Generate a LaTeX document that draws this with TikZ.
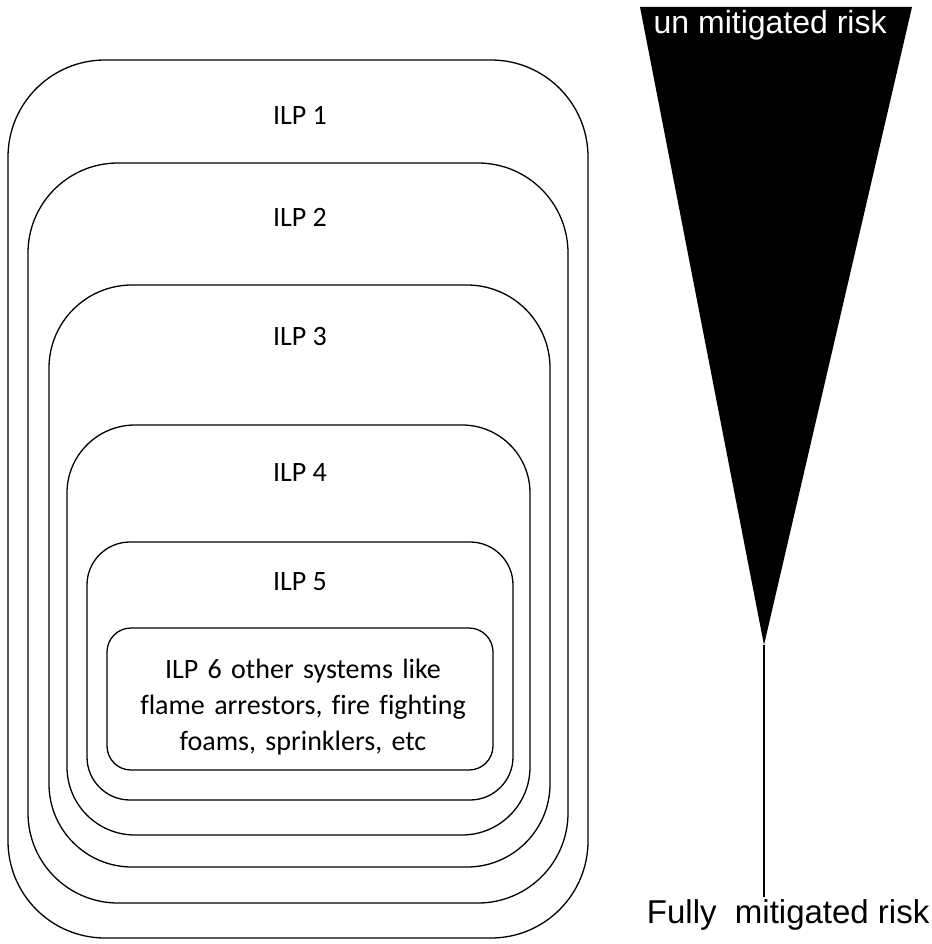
\documentclass[tikz,border=0pt]{standalone}
\usepackage{fontspec}
\setmainfont{Carlito}[Ligatures=NoCommon]
\newfontfamily\riskfont{Liberation Sans}
\usepackage{tikz}

\begin{document}
\begin{tikzpicture}[x=1pt, y=-1pt, line width=1.3pt]
    \tikzset{layer box/.style={draw, rectangle, inner sep=0pt}}
    \tikzset{layer label/.style={font=\fontsize{28}{36}\selectfont, inner sep=0pt}}
    \tikzset{risk label/.style={font=\riskfont\fontsize{32}{38}\selectfont, inner sep=0pt}}
    \useasboundingbox (0,0) rectangle (931,944);

    % Layers
    \node (ilp1) [layer box, rounded corners=97pt, minimum width=580pt, minimum height=878pt] at (298,499) {};
    \node (ilp2) [layer box, rounded corners=90pt, minimum width=540pt, minimum height=740pt] at (298,533) {};
    \node (ilp3) [layer box, rounded corners=83pt, minimum width=501pt, minimum height=582pt] at (299.5,576) {};
    \node (ilp4) [layer box, rounded corners=68pt, minimum width=463pt, minimum height=410pt] at (298.5,630) {};
    \node (ilp5) [layer box, rounded corners=43pt, minimum width=426pt, minimum height=258pt] at (300,671) {};
    \node (ilp6) [layer box, rounded corners=24pt, minimum width=386pt, minimum height=142pt] at (300,699) {};

    % Labels
    \node (ilp1-label) [layer label] at (300,115) {ILP 1};
    \node (ilp2-label) [layer label] at (300,217) {ILP 2};
    \node (ilp3-label) [layer label] at (300,337) {ILP 3};
    \node (ilp4-label) [layer label] at (300,473) {ILP 4};
    \node (ilp5-label) [layer label] at (300,582) {ILP 5};
    \node[text width=380pt, align=center] (ilp6-label) [layer label] at (303,707) {ILP 6 other systems like\\ flame arrestors, fire fighting\\ foams, sprinklers, etc};

    % Risk wedge
    \coordinate (apex) at (764,645);
    \coordinate (tail) at (764,897);
    \fill (640,7) -- (912,7) -- (apex) -- cycle;
    \node (unmitigated) [risk label, text=white, anchor=base west] at (653,34) {un mitigated risk};
    \node (mitigated) [risk label, font=\riskfont\fontsize{33}{38}\selectfont, anchor=base east] at (930,923) {Fully\ \ mitigated risk};
    \draw (apex) -- (tail);

\end{tikzpicture}
\end{document}
